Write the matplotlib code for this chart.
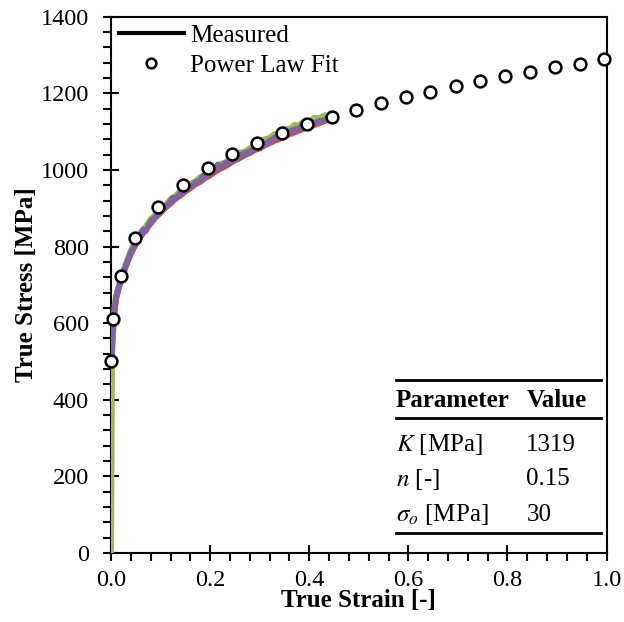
import numpy as np
import matplotlib
matplotlib.use('Agg')
import matplotlib.pyplot as plt
from matplotlib.lines import Line2D
from matplotlib.ticker import MultipleLocator, FormatStrFormatter

plt.rcParams['font.family'] = ['Liberation Serif', 'DejaVu Serif']
plt.rcParams['mathtext.fontset'] = 'stix'
plt.rcParams['font.size'] = 18

# power law fit points
fit_strain = [0.0, 0.004, 0.02, 0.048, 0.095, 0.145, 0.195, 0.245, 0.294, 0.344,
              0.396, 0.445, 0.494, 0.545, 0.595, 0.644, 0.696, 0.745, 0.795, 0.845,
              0.895, 0.946, 0.995]
fit_stress = [501, 611, 723, 822, 903, 962, 1004, 1041, 1070, 1096,
              1119, 1139, 1157, 1175, 1191, 1204, 1220, 1232, 1245, 1256,
              1268, 1278, 1289]

# measured curves (three specimens)
base_strain = [0.0, 0.0005, 0.001, 0.002, 0.004, 0.007, 0.01, 0.02, 0.03, 0.04, 0.05,
               0.06, 0.07, 0.08, 0.09, 0.10, 0.11, 0.12, 0.13, 0.14, 0.15,
               0.16, 0.17, 0.18, 0.19, 0.20, 0.21, 0.22, 0.23, 0.24, 0.25,
               0.26, 0.27, 0.28, 0.29, 0.30, 0.31, 0.32, 0.33, 0.34, 0.35,
               0.36, 0.37, 0.38, 0.39, 0.40, 0.41, 0.42, 0.43, 0.44]

red_stress = [0, 250, 480, 540, 590, 635, 662, 712, 748, 781, 806,
              826, 845, 860, 876, 888, 902, 912, 925, 933, 944,
              952, 962, 969, 979, 986, 995, 1003, 1009, 1017, 1025,
              1031, 1039, 1044, 1052, 1056, 1064, 1070, 1076, 1081, 1087,
              1093, 1098, 1103, 1108, 1113, 1117, 1122, 1127, 1131]

green_stress = [0, 250, 480, 545, 598, 642, 672, 720, 756, 790, 814,
                838, 852, 872, 884, 900, 909, 924, 932, 946, 952,
                964, 970, 982, 987, 1000, 1004, 1016, 1019, 1031, 1034,
                1045, 1048, 1057, 1063, 1072, 1080, 1084, 1094, 1094, 1108,
                1106, 1118, 1117, 1128, 1126, 1136, 1136, 1142, 1140]

purple_strain = [0.002, 0.004, 0.007, 0.01, 0.02, 0.03, 0.04, 0.05,
                 0.06, 0.065, 0.07, 0.08, 0.085, 0.09, 0.10, 0.105, 0.11, 0.12, 0.125,
                 0.13, 0.14, 0.15, 0.155, 0.16, 0.17, 0.18, 0.185, 0.19, 0.20,
                 0.21, 0.215, 0.22, 0.23, 0.24, 0.245, 0.25, 0.26, 0.27, 0.28,
                 0.29, 0.30, 0.305, 0.31, 0.32, 0.33, 0.34, 0.345, 0.35, 0.36,
                 0.37, 0.38, 0.385, 0.39, 0.40, 0.41, 0.42, 0.43, 0.44]
purple_stress = [520, 575, 628, 668, 715, 752, 785, 810,
                 830, 845, 840, 866, 872, 878, 894, 905, 902, 918, 928,
                 924, 940, 948, 960, 954, 968, 972, 984, 980, 994,
                 1002, 1014, 1006, 1018, 1022, 1034, 1026, 1038, 1044, 1048,
                 1058, 1060, 1074, 1066, 1076, 1084, 1086, 1098, 1090, 1100,
                 1106, 1108, 1118, 1112, 1120, 1122, 1128, 1130, 1136]

param_names = ['$K$ [MPa]', '$n$ [-]', r'$\sigma_o$ [MPa]']
param_values = ['1319', '0.15', '30']

fig = plt.figure(figsize=(6.24, 6.22), dpi=100)
ax = fig.add_axes([0.178, 0.111, 0.794, 0.862])

ax.plot(base_strain, red_stress, color='#c0504d', lw=4.2, zorder=2)
ax.plot(base_strain[:-1], green_stress[:-1], color='#9bbb59', lw=4.2, zorder=3)
ax.plot(purple_strain, purple_stress, color='#8064a2', lw=4.2, zorder=4)
ax.plot(fit_strain, fit_stress, linestyle='None', marker='o', markersize=8.5,
        markerfacecolor='white', markeredgecolor='black', markeredgewidth=1.8,
        zorder=5, clip_on=False)

ax.set_xlim(0, 1.0)
ax.set_ylim(0, 1400)
ax.xaxis.set_major_locator(MultipleLocator(0.2))
ax.xaxis.set_minor_locator(MultipleLocator(0.04))
ax.yaxis.set_major_locator(MultipleLocator(200))
ax.yaxis.set_minor_locator(MultipleLocator(40))
ax.xaxis.set_major_formatter(FormatStrFormatter('%.1f'))
ax.tick_params(which='major', direction='inout', length=12, width=1.5, labelsize=17.5)
ax.tick_params(axis='x', which='major', pad=6)
ax.tick_params(axis='y', which='major', pad=10)
ax.tick_params(which='minor', direction='out', length=5.5, width=1.5)
for s in ax.spines.values():
    s.set_linewidth(1.5)

ax.set_xlabel('True Strain [-]', fontweight='bold', fontsize=18, labelpad=-1)
ax.set_ylabel('True Stress [MPa]', fontweight='bold', fontsize=18, labelpad=2)

handles = [Line2D([], [], color='black', lw=3),
           Line2D([], [], linestyle='None', marker='o', markersize=7,
                  markerfacecolor='white', markeredgecolor='black', markeredgewidth=1.8)]
ax.legend(handles, ['Measured', 'Power Law Fit'], loc='upper left', frameon=False,
          handlelength=2.6, handletextpad=0.25, labelspacing=0.3, fontsize=18,
          borderpad=0.0, borderaxespad=0.3)

# parameter table
x0, x1 = 0.575, 0.988
xv = 0.838
ax.plot([x0, x1], [452, 452], color='black', lw=2, clip_on=False)
ax.plot([x0, x1], [353, 353], color='black', lw=2, clip_on=False)
ax.plot([x0, x1], [53, 53], color='black', lw=2, clip_on=False)
ax.text(x0, 398, 'Parameter', fontweight='bold', fontsize=18, va='center')
ax.text(xv, 398, 'Value', fontweight='bold', fontsize=18, va='center')
row_y = [283, 192, 100]
for name, val, yy in zip(param_names, param_values, row_y):
    ax.text(x0, yy, name, fontsize=18, va='center')
    ax.text(xv, yy, val, fontsize=18, va='center')

fig.savefig('out.png', dpi=100)
